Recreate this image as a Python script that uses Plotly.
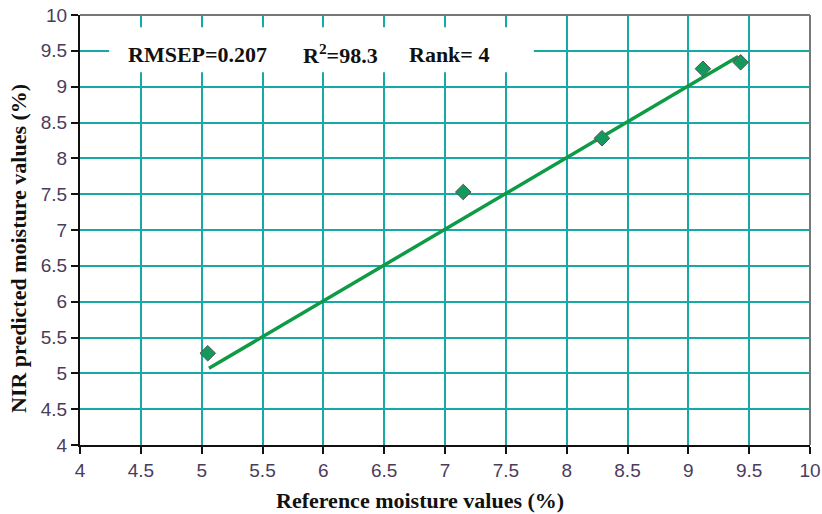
import plotly.graph_objects as go

ref_x = [5.05, 7.15, 8.29, 9.12, 9.43]
pred_y = [5.28, 7.53, 8.28, 9.25, 9.34]
fit_x = [5.06, 9.41]
fit_y = [5.07, 9.42]
tick_vals = [4, 4.5, 5, 5.5, 6, 6.5, 7, 7.5, 8, 8.5, 9, 9.5, 10]
tick_text = ["4", "4.5", "5", "5.5", "6", "6.5", "7", "7.5", "8", "8.5", "9", "9.5", "10"]

GRID = "#17a9a6"
TICKCOL = "#4b3c5c"
serif = "Liberation Serif, Times New Roman, serif"
sans = "Liberation Sans, Arial, sans-serif"

fig = go.Figure()
fig.add_trace(go.Scatter(x=fit_x, y=fit_y, mode="lines",
                         line=dict(color="#0f9a45", width=3.5), hoverinfo="skip"))
fig.add_trace(go.Scatter(x=ref_x, y=pred_y, mode="markers",
                         marker=dict(symbol="diamond", size=12, color="#13995c",
                                     line=dict(color="#555555", width=1))))

axis_common = dict(
    tickmode="array", tickvals=tick_vals, ticktext=tick_text,
    showgrid=True, gridcolor=GRID, gridwidth=2,
    showline=True, linecolor="#111111", linewidth=2,
    ticks="outside", ticklen=7, tickwidth=2, tickcolor="#111111",
    tickfont=dict(family=sans, size=19, color=TICKCOL),
    zeroline=False, range=[4, 10], automargin=False,
)

fig.update_layout(
    width=822, height=514,
    margin=dict(l=80, r=12, t=15, b=69),
    paper_bgcolor="white", plot_bgcolor="white",
    showlegend=False,
    xaxis=dict(**axis_common),
    yaxis=dict(**axis_common),
)

# white label box over the grid
fig.add_shape(type="rect", xref="x", yref="y", x0=4.24, x1=7.73, y0=9.2, y1=9.83,
              fillcolor="white", line=dict(width=0), layer="between")
# top & right border
fig.add_shape(type="line", xref="paper", yref="paper", x0=0, x1=1, y0=1, y1=1,
              line=dict(color="#777777", width=2))
fig.add_shape(type="line", xref="paper", yref="paper", x0=1, x1=1, y0=0, y1=1,
              line=dict(color="#777777", width=2))

title_font = dict(family=serif, size=22, color="#111111")
fig.add_annotation(xref="paper", yref="paper", x=0.466, y=-0.128,
                   xanchor="center", yanchor="middle", showarrow=False,
                   text="<b>Reference moisture values (%)</b>", font=title_font)
fig.add_annotation(xref="paper", yref="paper", x=-0.085, y=0.458,
                   xanchor="center", yanchor="middle", showarrow=False, textangle=-90,
                   text="<b>NIR predicted moisture values (%)</b>", font=title_font)

lab_font = dict(family=serif, size=22, color="#111111")
fig.add_annotation(xref="x", yref="y", x=4.38, y=9.45, xanchor="left", yanchor="middle",
                   text="<b>RMSEP=0.207</b>", showarrow=False, font=lab_font)
fig.add_annotation(xref="x", yref="y", x=5.82, y=9.45, xanchor="left", yanchor="middle",
                   text="<b>R<sup>2</sup>=98.3</b>", showarrow=False, font=lab_font)
fig.add_annotation(xref="x", yref="y", x=6.69, y=9.45, xanchor="left", yanchor="middle",
                   text="<b>Rank= 4</b>", showarrow=False, font=lab_font)

# remove the browser's default page margin so the 822x514 figure fills the window
fig.write_html("out.html", config={"displayModeBar": False},
               post_script="document.body.style.margin='0';")
